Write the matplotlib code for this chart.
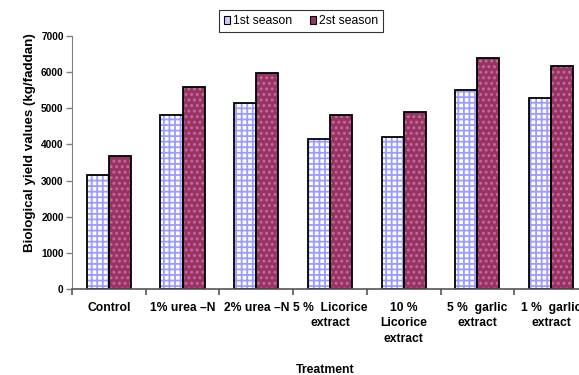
import numpy as np
import matplotlib.pyplot as plt
from matplotlib.patches import Patch

# Biological yield per treatment for the two seasons
treatments = ['Control', '1% urea \u2013N', '2% urea \u2013N', '5 %  Licorice\nextract',
              '10 %\nLicorice\nextract', '5 %  garlic\nextract', '1 %  garlic\nextract']
season1 = [3160, 4810, 5150, 4140, 4200, 5500, 5290]
season2 = [3690, 5600, 5980, 4820, 4900, 6390, 6170]
yticks = [0, 1000, 2000, 3000, 4000, 5000, 6000, 7000]

plt.rcParams['font.family'] = ['Liberation Sans', 'DejaVu Sans']
plt.rcParams['hatch.linewidth'] = 1.3

fig = plt.figure(figsize=(5.79, 3.75), dpi=100)
ax = fig.add_axes([0.1244, 0.2293, 0.891, 0.6747])

x = np.arange(len(treatments))
w = 0.3

# hatched fill first, then a plain black outline on top
ax.bar(x - w/2, season1, w, color='white', edgecolor='#9c9cff', hatch='+++', linewidth=0)
ax.bar(x + w/2, season2, w, color='#993366', edgecolor='#c07096', hatch='...', linewidth=0)
ax.bar(x - w/2, season1, w, fill=False, edgecolor='black', linewidth=1.3)
ax.bar(x + w/2, season2, w, fill=False, edgecolor='black', linewidth=1.3)

ax.set_xlim(-0.5, len(treatments) - 0.5)
ax.set_ylim(0, 7000)
ax.set_yticks(yticks)
ax.set_yticklabels([str(t) for t in yticks], fontsize=7.3, fontweight='bold')

# category labels between boundary ticks
ax.set_xticks(np.arange(len(treatments) + 1) - 0.5)
ax.set_xticklabels([])
ax.set_xticks(x, minor=True)
ax.set_xticklabels(treatments, minor=True, fontsize=8.7, fontweight='bold', linespacing=1.4, va='top')
ax.tick_params(axis='x', which='minor', length=0, pad=9)
ax.tick_params(axis='x', which='major', length=4, width=1.2, color='#555555')
ax.tick_params(axis='y', length=4, width=1, color='#808080', pad=2)

for s in ['top', 'right']:
    ax.spines[s].set_visible(False)
ax.spines['left'].set_color('#808080')
ax.spines['bottom'].set_color('#555555')
ax.spines['bottom'].set_linewidth(1.2)

ax.set_ylabel('Biological yield values (kg/faddan)', fontsize=9.6, fontweight='bold')
ax.yaxis.set_label_coords(-0.07, 0.58)
fig.text(0.562, 0.013, 'Treatment', ha='center', va='center', fontsize=8.8, fontweight='bold')

handles = [Patch(facecolor='#ccccff', edgecolor='black', linewidth=0.8),
           Patch(facecolor='#993366', edgecolor='black', linewidth=0.8)]
leg = fig.legend(handles, ['1st season', '2st season'], loc='center', bbox_to_anchor=(0.52, 0.943),
                 ncol=2, fontsize=8.8, frameon=True, fancybox=False, shadow=False,
                 handlelength=0.55, handleheight=0.55, handletextpad=0.25, columnspacing=1.4,
                 borderpad=0.4)
leg.get_frame().set_edgecolor('black')
leg.get_frame().set_linewidth(0.8)

fig.savefig('out.png', dpi=100)
